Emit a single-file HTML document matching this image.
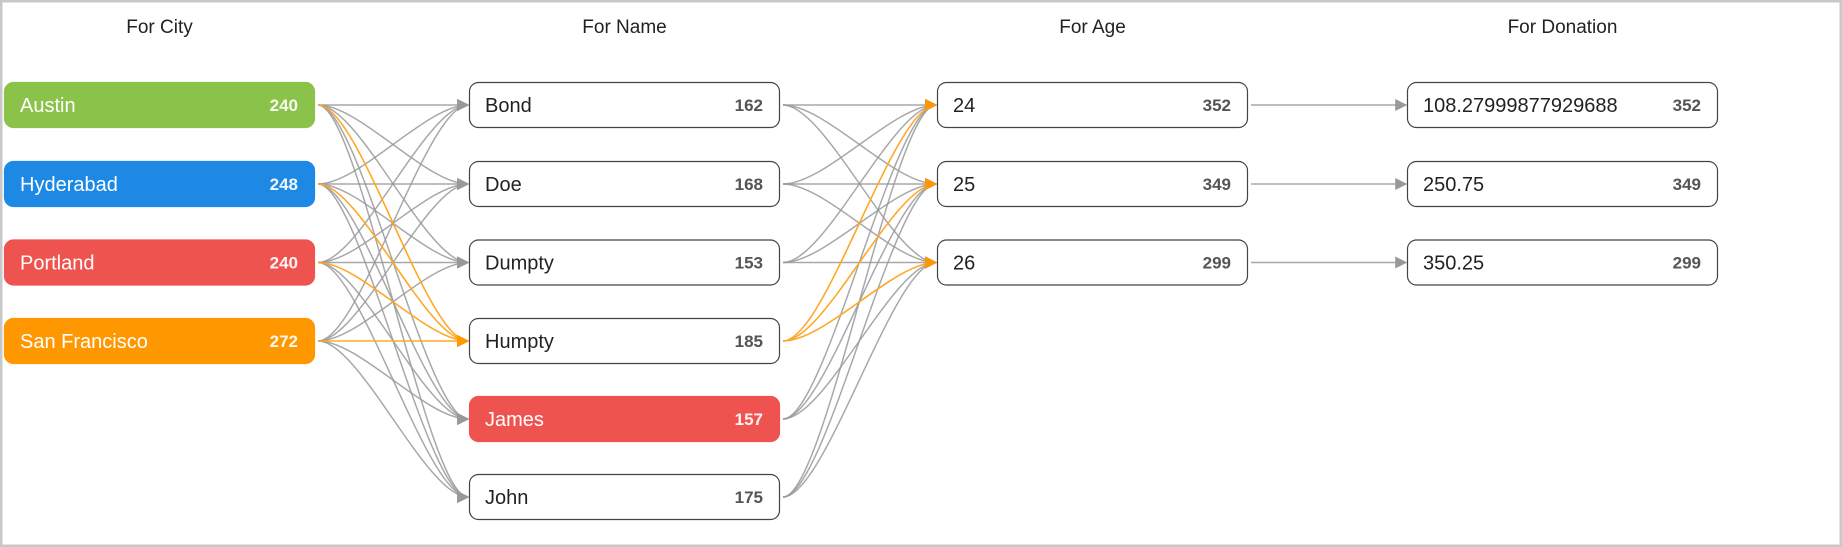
<!DOCTYPE html>
<html><head><meta charset="utf-8"><style>
html,body{margin:0;padding:0;background:#fff;}
body{width:1842px;height:547px;overflow:hidden;font-family:"Liberation Sans",sans-serif;}
svg{display:block}
</style></head><body>
<svg id="s" width="1842" height="547" xmlns="http://www.w3.org/2000/svg">
<defs>
<marker id="ag" viewBox="0 0 10 10" refX="9" refY="5" markerWidth="12" markerHeight="12" markerUnits="userSpaceOnUse" orient="auto"><path d="M0,0L10,5L0,10z" fill="#999"/></marker>
<marker id="ao" viewBox="0 0 10 10" refX="9" refY="5" markerWidth="12" markerHeight="12" markerUnits="userSpaceOnUse" orient="auto"><path d="M0,0L10,5L0,10z" fill="#ff9800"/></marker>
</defs>
<rect x="1" y="1" width="1840" height="545" fill="#fff" stroke="#c8c8c8" stroke-width="3"/>
<g id="edges" fill="none"></g>
<g id="nodes"></g>
</svg>
<script>
var NS="http://www.w3.org/2000/svg";
var s=document.getElementById('s'),E=document.getElementById('edges'),N=document.getElementById('nodes');
var colX=[4,469,937,1407],W=311,H=46,tops=[82,161,239.5,318,396,474];
var titles=["For City","For Name","For Age","For Donation"];
function el(t,a,p,txt){var e=document.createElementNS(NS,t);for(var k in a)e.setAttribute(k,a[k]);if(txt!=null)e.textContent=txt;(p||s).appendChild(e);return e;}
titles.forEach(function(t,i){el('text',{x:colX[i]+W/2,y:33,'text-anchor':'middle','font-size':19,fill:'#222','font-family':'Liberation Sans, sans-serif'},N,t);});
var cols=[
[["Austin",240,"#8bc34a"],["Hyderabad",248,"#1e88e5"],["Portland",240,"#ef5350"],["San Francisco",272,"#ff9800"]],
[["Bond",162],["Doe",168],["Dumpty",153],["Humpty",185],["James",157,"#ef5350"],["John",175]],
[["24",352],["25",349],["26",299]],
[["108.27999877929688",352],["250.75",349],["350.25",299]]];
function cy(r){return tops[r]+H/2;}
function edge(c,r1,r2,orange){
 var x1=colX[c]+W+3,y1=cy(r1),x2=colX[c+1]-1,y2=cy(r2),dx=(x2-x1)*0.28;
 el('path',{d:'M'+x1+','+y1+' C'+(x1+dx)+','+y1+' '+(x2-dx)+','+y2+' '+x2+','+y2,stroke:orange?'#ffa726':'#999','stroke-width':orange?1.6:1.5,'stroke-opacity':orange?1:0.85,'marker-end':orange?'url(#ao)':'url(#ag)'},E);
}
var oe=[];
for(var a=0;a<4;a++)for(var b=0;b<6;b++){if(b==3)oe.push([0,a,b]);else edge(0,a,b,false);}
for(var a=0;a<6;a++)for(var b=0;b<3;b++){if(a==3)oe.push([1,a,b]);else edge(1,a,b,false);}
for(var a=0;a<3;a++)edge(2,a,a,false);
oe.forEach(function(o){edge(o[0],o[1],o[2],true);});
cols.forEach(function(col,i){col.forEach(function(n,r){
 var x=colX[i],y=tops[r],f=n[2];
 el('rect',{x:x+0.5,y:y+0.5,width:W-1,height:H-1,rx:9,ry:9,fill:f||'#fff',stroke:f?f:'#444','stroke-width':1.2},N);
 el('text',{x:x+16,y:y+H/2+7,'font-size':20,fill:f?'#fff':'#222'},N,n[0]);
 el('text',{x:x+W-17,y:y+H/2+6,'font-size':17,'font-weight':'bold','text-anchor':'end',fill:f?'#fff':'#555','fill-opacity':f?0.92:1},N,n[1]);
});});
</script>
</body></html>
